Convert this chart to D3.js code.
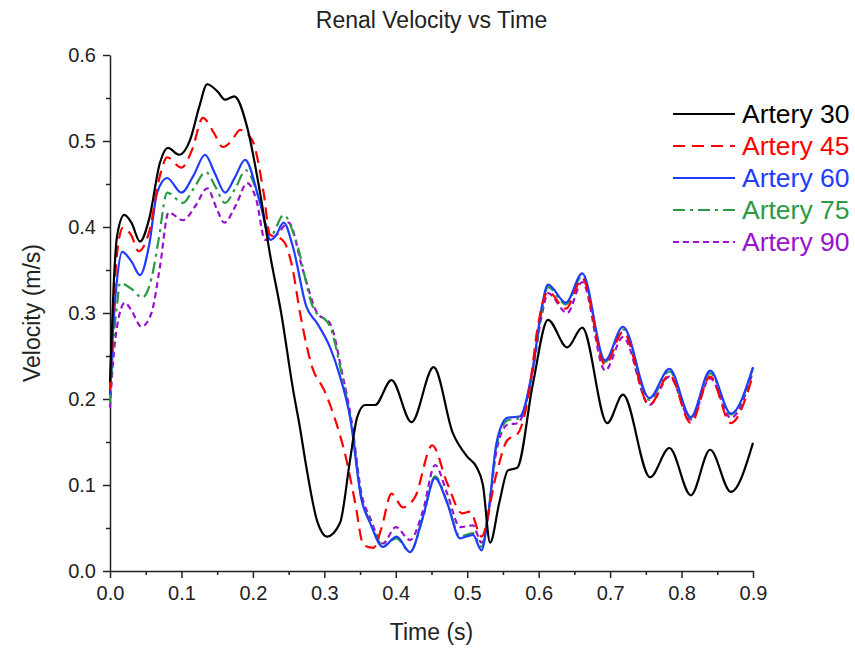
<!DOCTYPE html>
<html>
<head>
<meta charset="utf-8">
<script src="https://cdn.jsdelivr.net/npm/d3@7"></script>
<style>
  body { margin: 0; background: #fff; }
  text { font-family: "Liberation Sans", Arial, sans-serif; }
</style>
</head>
<body>
<svg id="Chartsvg" width="855" height="655"></svg>
<script>
// series (time in s, velocity in m/s)
var t30 = [0, 0.005, 0.01, 0.02, 0.03, 0.042, 0.055, 0.07, 0.081, 0.097, 0.112, 0.125, 0.136, 0.15, 0.161, 0.174, 0.192, 0.21, 0.224, 0.24, 0.256, 0.266, 0.275, 0.29, 0.304, 0.322, 0.336, 0.346, 0.357, 0.371, 0.394, 0.422, 0.453, 0.48, 0.5, 0.513, 0.522, 0.532, 0.545, 0.557, 0.57, 0.592, 0.613, 0.64, 0.661, 0.696, 0.718, 0.756, 0.783, 0.813, 0.84, 0.869, 0.9];
var v30 = [0.22, 0.33, 0.39, 0.414, 0.405, 0.383, 0.41, 0.475, 0.492, 0.484, 0.501, 0.54, 0.566, 0.558, 0.548, 0.552, 0.516, 0.44, 0.368, 0.298, 0.212, 0.166, 0.12, 0.058, 0.04, 0.056, 0.129, 0.179, 0.193, 0.193, 0.222, 0.173, 0.237, 0.16, 0.133, 0.121, 0.1, 0.033, 0.08, 0.117, 0.12, 0.218, 0.292, 0.26, 0.283, 0.172, 0.205, 0.109, 0.143, 0.088, 0.141, 0.092, 0.149];

var t45 = [0, 0.005, 0.01, 0.018, 0.03, 0.04, 0.055, 0.07, 0.08, 0.1, 0.115, 0.13, 0.145, 0.158, 0.17, 0.182, 0.199, 0.215, 0.224, 0.238, 0.245, 0.255, 0.266, 0.283, 0.3, 0.312, 0.331, 0.343, 0.355, 0.369, 0.38, 0.394, 0.41, 0.427, 0.451, 0.472, 0.493, 0.504, 0.52, 0.54, 0.556, 0.571, 0.585, 0.6, 0.613, 0.638, 0.661, 0.693, 0.718, 0.755, 0.783, 0.813, 0.84, 0.869, 0.9];
var v45 = [0.21, 0.31, 0.37, 0.399, 0.39, 0.372, 0.395, 0.46, 0.481, 0.469, 0.49, 0.527, 0.51, 0.493, 0.5, 0.513, 0.501, 0.44, 0.391, 0.387, 0.381, 0.354, 0.3, 0.237, 0.21, 0.184, 0.129, 0.08, 0.03, 0.027, 0.05, 0.09, 0.074, 0.086, 0.146, 0.102, 0.067, 0.069, 0.04, 0.11, 0.152, 0.16, 0.2, 0.29, 0.325, 0.305, 0.34, 0.24, 0.278, 0.193, 0.228, 0.172, 0.226, 0.172, 0.228];

var t60 = [0, 0.005, 0.01, 0.017, 0.03, 0.042, 0.055, 0.066, 0.08, 0.1, 0.117, 0.133, 0.147, 0.161, 0.175, 0.189, 0.21, 0.225, 0.232, 0.243, 0.256, 0.275, 0.29, 0.308, 0.322, 0.336, 0.352, 0.364, 0.382, 0.401, 0.42, 0.438, 0.455, 0.472, 0.49, 0.508, 0.52, 0.53, 0.541, 0.556, 0.574, 0.592, 0.605, 0.613, 0.638, 0.661, 0.693, 0.718, 0.755, 0.783, 0.813, 0.84, 0.869, 0.9];
var v60 = [0.205, 0.29, 0.34, 0.371, 0.36, 0.344, 0.38, 0.44, 0.457, 0.44, 0.46, 0.484, 0.462, 0.44, 0.458, 0.478, 0.428, 0.385, 0.39, 0.405, 0.377, 0.307, 0.288, 0.26, 0.226, 0.179, 0.083, 0.056, 0.028, 0.04, 0.022, 0.063, 0.108, 0.079, 0.038, 0.042, 0.024, 0.07, 0.149, 0.178, 0.18, 0.237, 0.31, 0.333, 0.312, 0.346, 0.245, 0.284, 0.201, 0.235, 0.179, 0.233, 0.183, 0.237];

var t75 = [0, 0.005, 0.01, 0.014, 0.03, 0.045, 0.058, 0.068, 0.08, 0.102, 0.118, 0.134, 0.148, 0.161, 0.176, 0.19, 0.21, 0.225, 0.243, 0.26, 0.284, 0.308, 0.325, 0.338, 0.352, 0.364, 0.382, 0.401, 0.42, 0.438, 0.455, 0.472, 0.49, 0.508, 0.52, 0.53, 0.541, 0.556, 0.574, 0.592, 0.605, 0.613, 0.638, 0.661, 0.693, 0.718, 0.755, 0.783, 0.813, 0.84, 0.869, 0.9];
var v75 = [0.195, 0.27, 0.31, 0.335, 0.328, 0.318, 0.34, 0.385, 0.44, 0.428, 0.446, 0.464, 0.446, 0.428, 0.446, 0.466, 0.43, 0.39, 0.414, 0.385, 0.307, 0.284, 0.226, 0.17, 0.085, 0.058, 0.03, 0.038, 0.022, 0.062, 0.11, 0.08, 0.04, 0.044, 0.028, 0.07, 0.145, 0.175, 0.178, 0.235, 0.305, 0.33, 0.31, 0.343, 0.243, 0.281, 0.199, 0.232, 0.178, 0.23, 0.182, 0.236];

var t90 = [0, 0.005, 0.01, 0.021, 0.03, 0.044, 0.058, 0.07, 0.082, 0.102, 0.12, 0.136, 0.15, 0.16, 0.176, 0.192, 0.205, 0.217, 0.232, 0.25, 0.27, 0.29, 0.308, 0.325, 0.338, 0.352, 0.364, 0.382, 0.4, 0.42, 0.438, 0.455, 0.472, 0.49, 0.508, 0.52, 0.53, 0.541, 0.556, 0.571, 0.59, 0.605, 0.613, 0.64, 0.661, 0.693, 0.718, 0.755, 0.783, 0.813, 0.84, 0.869, 0.9];
var v90 = [0.19, 0.25, 0.285, 0.312, 0.303, 0.284, 0.3, 0.354, 0.417, 0.408, 0.425, 0.445, 0.42, 0.405, 0.425, 0.451, 0.431, 0.385, 0.39, 0.405, 0.35, 0.3, 0.288, 0.23, 0.175, 0.09, 0.062, 0.032, 0.051, 0.036, 0.07, 0.123, 0.09, 0.051, 0.053, 0.033, 0.07, 0.14, 0.17, 0.172, 0.225, 0.3, 0.323, 0.3, 0.336, 0.233, 0.272, 0.193, 0.226, 0.176, 0.224, 0.178, 0.232];

var seriesNames = ["Artery 30", "Artery 45", "Artery 60", "Artery 75", "Artery 90"];
var xTicks = [0, 0.1, 0.2, 0.3, 0.4, 0.5, 0.6, 0.7, 0.8, 0.9];
var yTicks = [0, 0.1, 0.2, 0.3, 0.4, 0.5, 0.6];

var colors = ["#000000", "#ff0000", "#1f3cff", "#2b9a45", "#9a12d0"];
var dashes = [null, "12,7", null, "12,5,3,5", "6,4"];

function drawChart() {
    var svg = d3.select("#Chartsvg"),
        pLeft = 110, pRight = 753, pTop = 55, pBottom = 571;

    var x = d3.scaleLinear().domain([0, 0.9]).range([pLeft, pRight]);
    var y = d3.scaleLinear().domain([0, 0.6]).range([pBottom, pTop]);

    var data = [[t30, v30], [t45, v45], [t60, v60], [t75, v75], [t90, v90]].map(function(p, i) {
        return {
            name: seriesNames[i],
            pts: p[0].map(function(t, j) { return [t, p[1][j]]; })
        };
    });

    // minor ticks first, then main axes
    svg.append("g")
        .attr("transform", "translate(0," + pBottom + ")")
        .call(d3.axisBottom(x).tickValues(d3.range(0.05, 0.9, 0.1)).tickSize(4).tickFormat(""))
        .call(function(g) { g.select(".domain").remove(); });
    svg.append("g")
        .attr("transform", "translate(" + pLeft + ",0)")
        .call(d3.axisLeft(y).tickValues(d3.range(0.05, 0.6, 0.1)).tickSize(4).tickFormat(""))
        .call(function(g) { g.select(".domain").remove(); });

    var xAxis = svg.append("g")
        .attr("transform", "translate(0," + pBottom + ")")
        .call(d3.axisBottom(x).tickValues(xTicks).tickSize(7).tickSizeOuter(0).tickPadding(8).tickFormat(d3.format(".1f")));
    var yAxis = svg.append("g")
        .attr("transform", "translate(" + pLeft + ",0)")
        .call(d3.axisLeft(y).tickValues(yTicks).tickSize(7).tickSizeOuter(0).tickPadding(7).tickFormat(d3.format(".1f")));

    svg.selectAll(".tick line, .domain").attr("stroke", "#222").attr("stroke-width", 1.5);
    xAxis.selectAll("text").attr("font-size", 20).attr("fill", "#222");
    yAxis.selectAll("text").attr("font-size", 20).attr("fill", "#222");

    var line = d3.line()
        .x(function(d) { return x(d[0]); })
        .y(function(d) { return y(d[1]); })
        .curve(d3.curveMonotoneX);

    // draw the later series first so the black one sits on top
    svg.append("g").selectAll("path")
        .data(data.slice().reverse())
        .enter().append("path")
        .attr("d", function(d) { return line(d.pts); })
        .attr("fill", "none")
        .attr("stroke", function(d) { return colors[seriesNames.indexOf(d.name)]; })
        .attr("stroke-width", 2.2)
        .attr("stroke-dasharray", function(d) { return dashes[seriesNames.indexOf(d.name)]; });

    // legend
    var lg = svg.append("g").selectAll("g")
        .data(seriesNames)
        .enter().append("g")
        .attr("transform", function(d, i) { return "translate(673," + (114 + i * 32) + ")"; });
    lg.append("line")
        .attr("x1", 0).attr("x2", 62)
        .attr("stroke", function(d, i) { return colors[i]; })
        .attr("stroke-width", 2.2)
        .attr("stroke-dasharray", function(d, i) { return dashes[i]; });
    lg.append("text")
        .attr("x", 69)
        .attr("dy", "0.35em")
        .attr("font-size", 26.5)
        .attr("fill", function(d, i) { return colors[i]; })
        .text(function(d) { return d; });

    // titles
    svg.append("text")
        .attr("x", (pLeft + pRight) / 2).attr("y", 28)
        .attr("text-anchor", "middle")
        .attr("font-size", 23)
        .attr("fill", "#222")
        .text("Renal Velocity vs Time");
    svg.append("text")
        .attr("x", (pLeft + pRight) / 2).attr("y", 640)
        .attr("text-anchor", "middle")
        .attr("font-size", 23)
        .attr("fill", "#222")
        .text("Time (s)");
    svg.append("text")
        .attr("transform", "translate(40," + (pTop + pBottom) / 2 + ") rotate(-90)")
        .attr("text-anchor", "middle")
        .attr("font-size", 23)
        .attr("fill", "#222")
        .text("Velocity (m/s)");
}

drawChart();
</script>
</body>
</html>
